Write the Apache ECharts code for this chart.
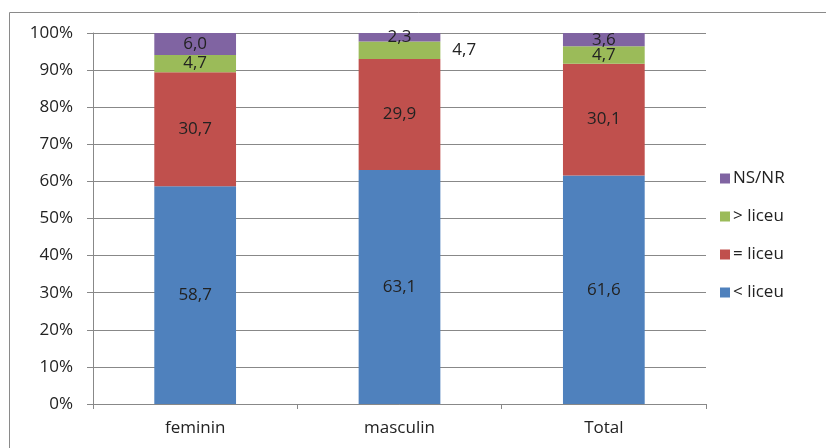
<!DOCTYPE html>
<html>
<head>
<meta charset="utf-8">
<script src="https://cdn.jsdelivr.net/npm/echarts@6/dist/echarts.min.js"></script>
<style>html,body{margin:0;padding:0;background:#fff}#c{width:826px;height:448px}</style>
</head>
<body>
<div id="c"></div>
<script>
const categories = ['feminin', 'masculin', 'Total'];
const lessLiceu = [58.7, 63.1, 61.6];
const eqLiceu = [30.7, 29.9, 30.1];
const moreLiceu = [4.7, 4.7, 4.7];
const nsnr = [6.0, 2.3, 3.6];
const yTicks = [0, 10, 20, 30, 40, 50, 60, 70, 80, 90, 100];

const chart = echarts.init(document.getElementById('c'));
const fmt = p => p.value.toFixed(1).replace('.', ',');
const font = '"Open Sans", "Liberation Sans", sans-serif';
function series(name, data, color, labelOverrides) {
  return {
    name, type: 'bar', stack: 'total', barWidth: '40%',
    itemStyle: { color },
    label: { show: true, position: 'inside', formatter: fmt, color: '#222', fontSize: 17, fontFamily: font },
    data: data.map((v, i) => (labelOverrides && labelOverrides[i]) ? { value: v, label: labelOverrides[i] } : v)
  };
}
chart.setOption({
  animation: false,
  backgroundColor: '#fff',
  graphic: [{ type: 'rect', shape: { x: 9.5, y: 12.5, width: 830, height: 450 }, style: { fill: 'none', stroke: '#8a8a8a', lineWidth: 1 } }],
  grid: { left: 93, right: 120, top: 33, bottom: 44 },
  legend: {
    orient: 'vertical', left: 715, top: 165, itemWidth: 10, itemHeight: 10, itemGap: 21,
    icon: 'rect',
    data: ['NS/NR', '> liceu', '= liceu', '< liceu'],
    textStyle: { fontSize: 17, color: '#222', fontFamily: font, padding: [0, 0, 0, -2] }
  },
  xAxis: {
    type: 'category', data: categories,
    axisLine: { lineStyle: { color: '#888' } },
    axisTick: { show: true, length: 5, lineStyle: { color: '#888' } },
    axisLabel: { fontSize: 17, color: '#222', fontFamily: font, margin: 16 }
  },
  yAxis: {
    type: 'value', min: 0, max: 100, interval: 10,
    axisLine: { show: true, lineStyle: { color: '#888' } },
    axisTick: { show: true, length: 6, lineStyle: { color: '#888' } },
    splitLine: { lineStyle: { color: '#888' } },
    axisLabel: { fontSize: 17, color: '#222', fontFamily: font, margin: 20,
      formatter: v => yTicks.includes(v) ? v + '%' : '' }
  },
  series: [
    series('< liceu', lessLiceu, '#4F81BD'),
    series('= liceu', eqLiceu, '#C0504D'),
    series('> liceu', moreLiceu, '#9BBB59', [null, { position: 'right', distance: 12 }, null]),
    series('NS/NR', nsnr, '#8064A2')
  ]
});
</script>
</body>
</html>
